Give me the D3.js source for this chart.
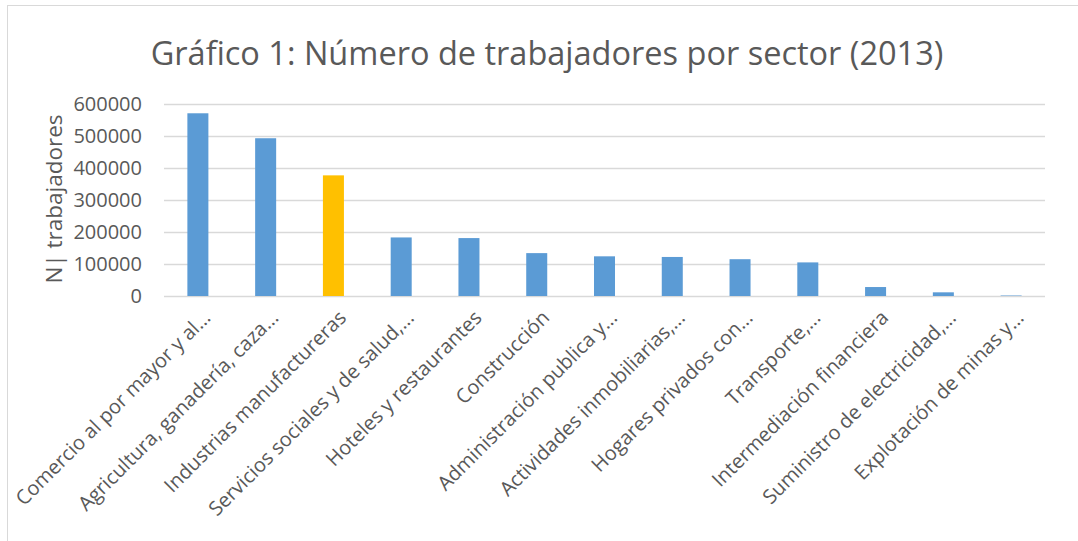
<!DOCTYPE html>
<html>
<head>
<style>
    body { margin: 0; background: #fff; }
    svg text { font-family: "Open Sans", sans-serif; fill: #595959; }
</style>
</head>
<body>
<svg id="chart" width="1078" height="541"></svg>
<script src="https://cdn.jsdelivr.net/npm/d3@7"></script>
<script>
    let sectors = ["Comercio al por mayor y al...", "Agricultura, ganadería, caza...",
        "Industrias manufactureras", "Servicios sociales y de salud,...",
        "Hoteles y restaurantes", "Construcción", "Administración publica y...",
        "Actividades inmobiliarias,...", "Hogares privados con...", "Transporte,...",
        "Intermediación financiera", "Suministro de electricidad,...",
        "Explotación de minas y..."];
    let workers = [571000, 493000, 377000, 183000, 181000, 134000, 124000,
        122000, 115000, 105000, 28000, 11500, 1500];
    let highlighted = ["Industrias manufactureras"];
    let yTicks = [0, 100000, 200000, 300000, 400000, 500000, 600000];

    let svg = d3.select("#chart");
    let margin = {left: 164, right: 33, top: 104, bottom: 245};
    let width = 1078 - margin.left - margin.right;
    let height = 541 - margin.top - margin.bottom;

    // outer frame
    svg.append("rect")
        .attr("x", 7.5).attr("y", 5.5)
        .attr("width", 1080).attr("height", 560)
        .attr("fill", "none").attr("stroke", "#d9d9d9");

    svg.append("text")
        .attr("x", 547).attr("y", 65)
        .attr("text-anchor", "middle")
        .style("font-size", "32.5px")
        .text("Gráfico 1: Número de trabajadores por sector (2013)");

    let g = svg.append("g").attr("transform", `translate(${margin.left},${margin.top})`);

    let x = d3.scaleBand().domain(sectors).range([0, width]).paddingInner(0.69).paddingOuter(0.345);
    let y = d3.scaleLinear().domain([0, 600000]).range([height, 0]);

    let yAxis = g.append("g")
        .call(d3.axisLeft(y).tickValues(yTicks).tickSize(-width).tickPadding(22).tickFormat(d3.format("d")));
    yAxis.select(".domain").remove();
    yAxis.selectAll("line").attr("stroke", "#d9d9d9").attr("stroke-width", 1.5);
    yAxis.selectAll("text").style("font-size", "20px").attr("fill", "#595959");

    g.selectAll("rect.bar")
        .data(workers)
        .enter().append("rect")
        .attr("class", "bar")
        .attr("x", function (d, i) { return x(sectors[i]); })
        .attr("y", function (d) { return y(d); })
        .attr("width", x.bandwidth())
        .attr("height", function (d) { return height - y(d); })
        .attr("fill", function (d, i) {
            return highlighted.includes(sectors[i]) ? "#ffc000" : "#5b9bd5";
        });

    let xAxis = g.append("g").attr("transform", `translate(0,${height})`)
        .call(d3.axisBottom(x).tickSize(0).tickPadding(0));
    xAxis.select(".domain").remove();
    xAxis.selectAll("text")
        .style("font-size", "20px")
        .attr("text-anchor", "end")
        .attr("dy", "0.35em")
        .attr("transform", "translate(9,18) rotate(-45)");

    svg.append("text")
        .attr("transform", "translate(62,199) rotate(-90)")
        .attr("text-anchor", "middle")
        .style("font-size", "22.5px")
        .text("N| trabajadores");
</script>
</body>
</html>
